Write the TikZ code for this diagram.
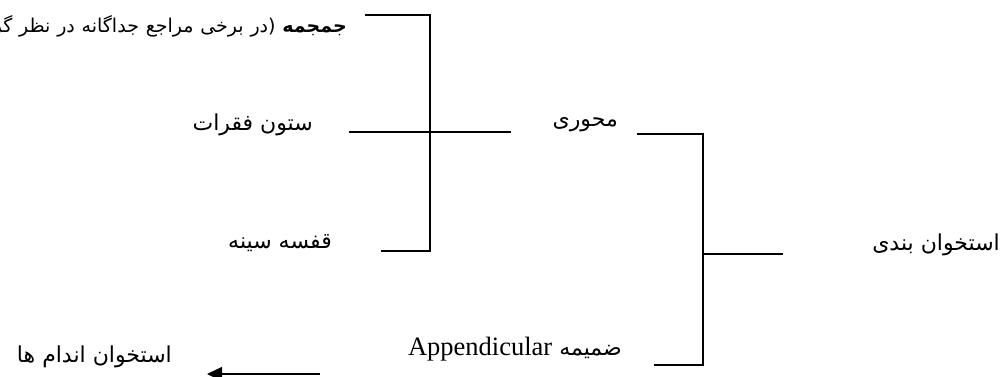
\documentclass[tikz,border=0pt]{standalone}
\usepackage{fontspec}
\setmainfont{Liberation Serif}
\newfontfamily\fa[Script=Arabic]{DejaVu Sans}
\newcommand\widespace{\spaceskip=6.8pt plus 0pt minus 0pt\relax}
\TeXXeTstate=1
\usetikzlibrary{arrows.meta}
\begin{document}
\begin{tikzpicture}[x=1pt,y=-1pt,
  conn/.style={line width=1.3pt,line cap=rect},
  fatext/.style={inner sep=0pt,anchor=east,font=\fa\fontsize{22}{26}\selectfont},
  smalltext/.style={inner sep=0pt,anchor=east,font=\fa\fontsize{19}{22}\selectfont}]
\useasboundingbox (0,0) rectangle (1007,376);
\clip (0,0) rectangle (1007,376);
% labels
\node[smalltext] (skull) at (347,26) {\widespace\beginR\textbf{جمجمه} (در برخی مراجع جداگانه در نظر گرفته می‌شود)\endR};
\node[fatext] (spine) at (313,125) {\beginR ستون فقرات\endR};
\node[fatext] (thorax) at (332,243) {\beginR قفسه سینه\endR};
\node[fatext] (axial) at (618,125) {\beginR محوری\endR};
\node[fatext] (skeleton) at (1000,245) {\beginR استخوان بندی\endR};
\node[fatext] (append) at (622,349) {\beginR ضمیمه {\rmfamily\fontsize{26.5}{30}\selectfont\beginL Appendicular\endL}\endR};
\node[fatext] (limbs) at (172,357) {\beginR استخوان اندام ها\endR};
% left bracket
\coordinate (a1) at (366,15);
\coordinate (a2) at (430,15);
\coordinate (a3) at (430,251);
\coordinate (a4) at (382,251);
\coordinate (am1) at (350,132);
\coordinate (am2) at (510,132);
\draw[conn] (a1) -- (a2) -- (a3) -- (a4);
\draw[conn] (am1) -- (am2);
% right bracket
\coordinate (b1) at (638,134);
\coordinate (b2) at (703,134);
\coordinate (b3) at (703,365);
\coordinate (b4) at (655,365);
\coordinate (bm1) at (703,254);
\coordinate (bm2) at (782,254);
\draw[conn] (b1) -- (b2) -- (b3) -- (b4);
\draw[conn] (bm1) -- (bm2);
% arrow
\coordinate (c1) at (320,374);
\coordinate (c2) at (207,374);
\draw[line width=1.3pt,-{Triangle[length=15pt,width=14pt]}] (c1) -- (c2);
\end{tikzpicture}
\end{document}
